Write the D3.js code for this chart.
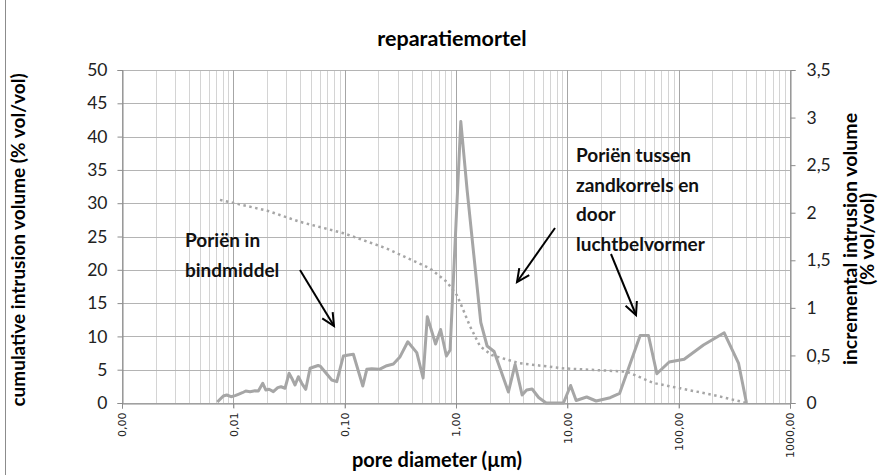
<!DOCTYPE html>
<html>
<head>
<meta charset="utf-8">
<script src="https://cdn.jsdelivr.net/npm/d3@7"></script>
<style>
  body { margin: 0; background: #fff; }
  svg { display: block; }
</style>
</head>
<body>
<div id="chart"></div>
<script>
// pore diameter (µm) and incremental intrusion volume (% vol/vol), right axis
const incDiameter = [0.00718, 0.00813, 0.00872, 0.00954, 0.01036, 0.01109, 0.01205, 0.01292, 0.01413, 0.01567,
    0.01677, 0.01838, 0.01955, 0.02093, 0.02288, 0.02505, 0.02683, 0.02914, 0.03166, 0.03389,
    0.03584, 0.03837, 0.04117, 0.04473, 0.04889, 0.05768, 0.06074, 0.07658, 0.08492, 0.09734,
    0.1080, 0.1197, 0.1455, 0.1580, 0.1752, 0.2049, 0.2389, 0.2739, 0.3147, 0.3689,
    0.4443, 0.5062, 0.5523, 0.6556, 0.7272, 0.8199, 0.8851, 1.104, 1.258, 1.670,
    1.903, 2.199, 2.957, 3.396, 3.925, 4.309, 4.828, 5.523, 6.449, 9.226,
    10.70, 12.00, 14.91, 18.15, 24.24, 29.51, 45.10, 53.54, 63.71, 82.14,
    112.0, 167.0, 256.4, 344.6, 406.6];
const incVolume = [0.01, 0.074, 0.084, 0.066, 0.077, 0.091, 0.108, 0.126, 0.119, 0.129,
    0.126, 0.207, 0.137, 0.144, 0.119, 0.161, 0.171, 0.155, 0.312, 0.249,
    0.189, 0.276, 0.207, 0.144, 0.365, 0.394, 0.384, 0.242, 0.224, 0.494,
    0.505, 0.512, 0.179, 0.354, 0.361, 0.354, 0.392, 0.410, 0.487, 0.644,
    0.529, 0.263, 0.907, 0.620, 0.773, 0.494, 0.557, 2.959, 2.239, 0.846,
    0.599, 0.541, 0.116, 0.405, 0.084, 0.137, 0.147, 0.058, 0, 0,
    0.184, 0.026, 0.063, 0.021, 0.056, 0.102, 0.710, 0.710, 0.307, 0.431,
    0.460, 0.610, 0.738, 0.420, 0];

// pore diameter (µm) and cumulative intrusion volume (% vol/vol), left axis
const cumDiameter = [0.00759, 0.01995, 0.03975, 0.0973, 0.2389, 0.4758, 0.5853, 0.8267, 1.017, 1.127,
    1.338, 1.646, 2.097, 3.636, 9.23, 34.24, 59.37, 103.2, 205.5, 410.1];
const cumVolume = [30.5, 28.9, 27.2, 25.5, 23.2, 20.9, 20.2, 18.2, 16.2, 14.5,
    11.5, 8.5, 7.2, 6.0, 5.2, 4.7, 3.0, 2.2, 1.2, 0];

const xTicks = [0.001, 0.01, 0.1, 1, 10, 100, 1000];
const leftTicks = [0, 5, 10, 15, 20, 25, 30, 35, 40, 45, 50];
const rightTicks = [0, 0.5, 1, 1.5, 2, 2.5, 3, 3.5];

const width = 878, height = 475;
const margin = {top: 70, right: 88, bottom: 72, left: 122};
const plotW = width - margin.left - margin.right;
const plotH = height - margin.top - margin.bottom;

const svg = d3.select("#chart").append("svg")
    .attr("width", width)
    .attr("height", height);

// outer chart border
svg.append("rect")
    .attr("x", 5.5).attr("y", -2)
    .attr("width", width + 10).attr("height", height + 10)
    .attr("fill", "none").attr("stroke", "#8c8c8c");

const x = d3.scaleLog().domain([0.001, 1000]).range([margin.left, margin.left + plotW]);
const yL = d3.scaleLinear().domain([0, 50]).range([margin.top + plotH, margin.top]);
const yR = d3.scaleLinear().domain([0, 3.5]).range([margin.top + plotH, margin.top]);

const comma = s => s.replace(".", ",");

/// Grid ///
let minorTicks = [];
for (let e = -3; e < 3; e++) {
    for (let m = 2; m <= 9; m++) minorTicks.push(m * Math.pow(10, e));
}
svg.append("g").selectAll("line")
    .data(minorTicks).enter().append("line")
    .attr("x1", d => Math.round(x(d)) + 0.5).attr("x2", d => Math.round(x(d)) + 0.5)
    .attr("y1", yL(50)).attr("y2", yL(0))
    .attr("stroke", "#d4d4d4");

svg.append("g").selectAll("line")
    .data(leftTicks).enter().append("line")
    .attr("x1", x(0.001)).attr("x2", x(1000))
    .attr("y1", d => Math.round(yL(d)) + 0.5).attr("y2", d => Math.round(yL(d)) + 0.5)
    .attr("stroke", "#b4b4b4");

svg.append("g").selectAll("line")
    .data(xTicks).enter().append("line")
    .attr("x1", d => Math.round(x(d)) + 0.5).attr("x2", d => Math.round(x(d)) + 0.5)
    .attr("y1", yL(50)).attr("y2", yL(0) + 5)
    .attr("stroke", "#a6a6a6");

/// Axes ///
const axisColor = "#8c8c8c";
const xAxis = svg.append("g")
    .attr("transform", "translate(0," + (Math.round(yL(0)) + 0.5) + ")")
    .call(d3.axisBottom(x).tickValues(xTicks).tickSize(5).tickFormat(d => comma(d3.format(".2f")(d))));
xAxis.select(".domain").attr("stroke", axisColor);
xAxis.selectAll(".tick line").attr("stroke", axisColor);
xAxis.selectAll(".tick text")
    .attr("transform", "rotate(-90)")
    .attr("text-anchor", "end")
    .attr("x", -9).attr("y", 0).attr("dy", "0.35em")
    .attr("fill", "#222")
    .style("font-family", "DejaVu Sans")
    .style("font-size", "11px");

const leftAxis = svg.append("g")
    .attr("transform", "translate(" + (Math.round(x(0.001)) + 0.5) + ",0)")
    .call(d3.axisLeft(yL).tickValues(leftTicks).tickSize(5).tickPadding(10));
leftAxis.select(".domain").attr("stroke", axisColor);
leftAxis.selectAll(".tick line").attr("stroke", axisColor);
leftAxis.selectAll(".tick text")
    .attr("fill", "#222")
    .style("font-family", "Lato")
    .style("font-size", "17.5px");

const rightAxis = svg.append("g")
    .attr("transform", "translate(" + (Math.round(x(1000)) + 0.5) + ",0)")
    .call(d3.axisRight(yR).tickValues(rightTicks).tickSize(5).tickPadding(11)
        .tickFormat(d => comma(String(d))));
rightAxis.select(".domain").attr("stroke", axisColor);
rightAxis.selectAll(".tick line").attr("stroke", axisColor);
rightAxis.selectAll(".tick text")
    .attr("fill", "#222")
    .style("font-family", "Lato")
    .style("font-size", "17.5px");

/// Series ///
const cumData = cumDiameter.map((d, i) => ({d: d, v: cumVolume[i]}));
const incData = incDiameter.map((d, i) => ({d: d, v: incVolume[i]}));

svg.append("path")
    .datum(cumData)
    .attr("fill", "none")
    .attr("stroke", "#a6a6a6")
    .attr("stroke-width", 2.5)
    .attr("stroke-dasharray", "2.5,3.5")
    .attr("d", d3.line().x(d => x(d.d)).y(d => yL(d.v)));

svg.append("path")
    .datum(incData)
    .attr("fill", "none")
    .attr("stroke", "#a6a6a6")
    .attr("stroke-width", 3)
    .attr("stroke-linejoin", "round")
    .attr("d", d3.line().x(d => x(d.d)).y(d => yR(d.v)));

/// Titles ///
const bold = "font-family: Lato; font-weight: bold;";
svg.append("text")
    .attr("x", 452).attr("y", 46)
    .attr("text-anchor", "middle")
    .attr("style", bold + " font-size: 21.5px;")
    .text("reparatiemortel");

svg.append("text")
    .attr("x", 437).attr("y", 467)
    .attr("text-anchor", "middle")
    .attr("style", bold + " font-size: 20px;")
    .text("pore diameter (µm)");

svg.append("text")
    .attr("transform", "translate(25," + 240 + ") rotate(-90)")
    .attr("text-anchor", "middle")
    .attr("style", bold + " font-size: 19px;")
    .text("cumulative intrusion volume (% vol/vol)");

svg.append("text")
    .attr("transform", "translate(857," + 239 + ") rotate(-90)")
    .attr("text-anchor", "middle")
    .attr("style", bold + " font-size: 19.5px;")
    .text("incremental intrusion volume");
svg.append("text")
    .attr("transform", "translate(874," + 239 + ") rotate(-90)")
    .attr("text-anchor", "middle")
    .attr("style", bold + " font-size: 19.5px;")
    .text("(% vol/vol)");

/// Annotations ///
function note(lines, x0, y0) {
    lines.forEach((t, i) => {
        svg.append("text")
            .attr("x", x0).attr("y", y0 + i * 29.5)
            .attr("style", bold + " font-size: 19px;")
            .attr("fill", "#111")
            .text(t);
    });
}
note(["Poriën in", "bindmiddel"], 185, 247);
note(["Poriën tussen", "zandkorrels en", "door", "luchtbelvormer"], 576, 162);

function arrow(x1, y1, x2, y2) {
    const a = Math.atan2(y2 - y1, x2 - x1);
    const len = 14, spread = 0.45;
    const g = svg.append("g").attr("stroke", "#000").attr("stroke-width", 2).attr("fill", "none");
    g.append("line").attr("x1", x1).attr("y1", y1).attr("x2", x2).attr("y2", y2);
    g.append("path").attr("d",
        "M" + (x2 - len * Math.cos(a - spread)) + "," + (y2 - len * Math.sin(a - spread)) +
        "L" + x2 + "," + y2 +
        "L" + (x2 - len * Math.cos(a + spread)) + "," + (y2 - len * Math.sin(a + spread)));
}
arrow(300, 270, 334, 326);
arrow(555, 228, 517, 282);
arrow(611, 254, 636, 315);
</script>
</body>
</html>
